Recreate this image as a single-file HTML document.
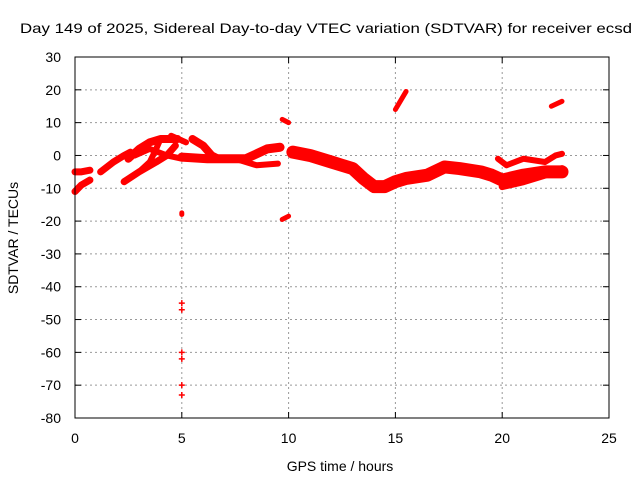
<!DOCTYPE html>
<html><head><meta charset="utf-8"><style>
body{margin:0;background:#fff;}
svg text{font-family:"Liberation Sans",sans-serif;font-size:14px;fill:#000;}
</style></head><body>
<svg id="chart" width="640" height="480" xmlns="http://www.w3.org/2000/svg">
<rect width="640" height="480" fill="#fff"/>
<text x="20" y="33" textLength="612" lengthAdjust="spacingAndGlyphs">Day 149 of 2025, Sidereal Day-to-day VTEC variation (SDTVAR) for receiver ecsd</text>
<text x="340" y="471" text-anchor="middle">GPS time / hours</text>
<text x="18" y="238" text-anchor="middle" transform="rotate(-90 18 238)">SDTVAR / TECUs</text>
<g id="grid"></g><g id="marks"></g>
<rect x="75" y="57" width="534" height="361" fill="none" stroke="#000" stroke-width="1"/>
</svg>
<script>
const xTicks=[0,5,10,15,20,25];
const yTicks=[30,20,10,0,-10,-20,-30,-40,-50,-60,-70,-80];
const track1=[[0,-5],[0.3,-5],[0.7,-4.5]];
const track2=[[0,-11],[0.3,-9],[0.7,-7.5]];
const track3=[[1.2,-5],[1.8,-2],[2.3,0],[2.6,1]];
const track4=[[2.3,-8],[3,-5],[3.8,-2],[4.3,0],[4.7,3]];
const track5=[[2.5,-1],[3,2],[3.5,4],[4,5],[4.5,5],[4.8,5]];
const track6=[[3,-5],[3.5,-2],[3.8,2],[4,5]];
const track7=[[2.8,0],[3.5,2],[4.3,0],[5,-1]];
const track8=[[4.5,6],[5.2,4]];
const track9=[[5.5,5],[6,3],[6.4,0],[6.7,-1]];
const track10=[[5,-0.5],[6.2,-1],[7,-1],[8,-1],[9,2],[9.6,2.5]];
const track11=[[7.5,-1],[8.5,-3],[9.5,-2.5]];
const track12=[[9.7,11],[10,10]];
const track13=[[9.7,-19.5],[10,-18.5]];
const track14=[[5,-18],[5,-17.5]];
const outliers=[[5,-45],[5,-47],[5,-60],[5,-62],[5,-70],[5,-73]];
const track15=[[10.2,1],[11,0],[12,-2],[12.5,-3],[13,-4],[13.5,-7],[14,-9.5],[14.5,-9.5],[15,-8],[15.5,-7],[16.5,-6],[17.3,-3.5],[18,-4],[19,-5],[19.5,-6],[20,-7.5],[21,-6],[22,-5],[22.8,-5]];
const track16=[[19.8,-1],[20.2,-3],[21,-1],[22,-2],[22.5,0],[22.8,0.5]];
const track17=[[20,-9.5],[21,-8],[22,-6],[22.8,-4]];
const track18=[[15,14],[15.5,19.5]];
const track19=[[22.3,15],[22.8,16.5]];
const tracks=[[track1,7],[track2,7],[track3,7],[track4,7],[track5,8],[track6,6],[track7,6],[track8,6],[track9,8],[track10,9],[track11,6],[track12,5],[track13,5],[track14,5],[track15,13],[track16,6],[track17,7],[track18,5],[track19,5]];
const NS="http://www.w3.org/2000/svg";
const X=v=>75+v*534/25, Y=v=>57+(30-v)*361/110;
const grid=document.getElementById('grid'), marks=document.getElementById('marks');
function el(t,a,p){const e=document.createElementNS(NS,t);for(const k in a)e.setAttribute(k,a[k]);p.appendChild(e);return e;}
xTicks.forEach(t=>{
 if(t>0&&t<25){const g=el('line',{x1:X(t),x2:X(t),y1:57,y2:418,stroke:'#999','stroke-dasharray':'2,3'},grid);
 
 }
 el('line',{x1:X(t),x2:X(t),y1:418,y2:412,stroke:'#000'},grid);
 el('line',{x1:X(t),x2:X(t),y1:57,y2:63,stroke:'#000'},grid);
 const l=el('text',{x:X(t),y:443,'text-anchor':'middle'},grid);l.textContent=t;
 
 
});
yTicks.forEach(t=>{
 if(t<30&&t>-80){const g=el('line',{x1:75,x2:609,y1:Y(t),y2:Y(t),stroke:'#999','stroke-dasharray':'2,3'},grid);
 
 }
 el('line',{x1:75,x2:81,y1:Y(t),y2:Y(t),stroke:'#000'},grid);
 el('line',{x1:603,x2:609,y1:Y(t),y2:Y(t),stroke:'#000'},grid);
 const l=el('text',{x:61,y:Y(t)+5,'text-anchor':'end'},grid);l.textContent=t;
 
 
});
tracks.forEach(([pts,w])=>{
 const p=el('polyline',{points:pts.map(q=>X(q[0])+','+Y(q[1])).join(' '),fill:'none',stroke:'#f00','stroke-width':w,'stroke-linejoin':'round','stroke-linecap':'round'},marks);
 
 
});
outliers.forEach(q=>{
 const p=el('path',{d:`M${X(q[0])-3},${Y(q[1])}h6M${X(q[0])},${Y(q[1])-3}v6`,stroke:'#f00','stroke-width':1.5},marks);
 
 
});
</script>
</body></html>
